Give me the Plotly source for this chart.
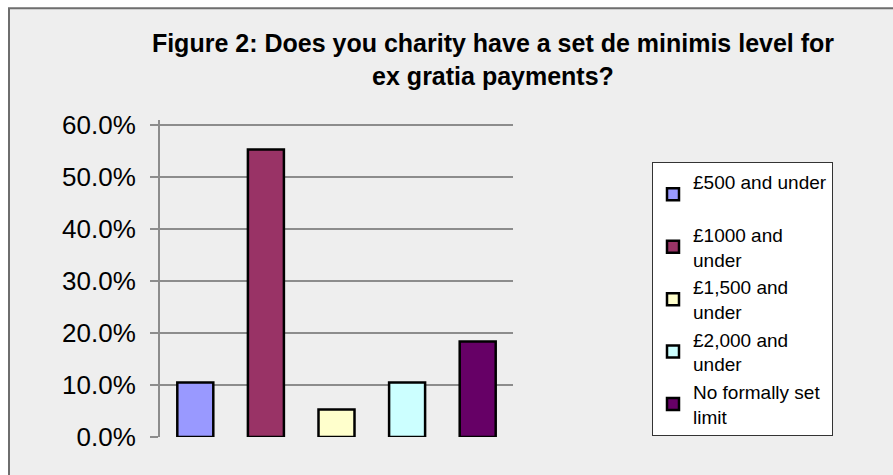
import plotly.graph_objects as go

# ---- data ----
categories = ["£500 and under", "£1000 and under", "£1,500 and under",
              "£2,000 and under", "No formally set limit"]
legend_labels = ["£500 and under<br>\u00a0", "£1000 and<br>under", "£1,500 and<br>under",
                 "£2,000 and<br>under", "No formally set<br>limit"]
values = [0.105, 0.553, 0.053, 0.105, 0.184]
colors = ["#9999FF", "#993366", "#FFFFCC", "#CCFFFF", "#660066"]
y_ticks = [0, 0.1, 0.2, 0.3, 0.4, 0.5, 0.6]
y_ticklabels = ["0.0%", "10.0%", "20.0%", "30.0%", "40.0%", "50.0%", "60.0%"]
title_text = "Figure 2: Does you charity have a set de minimis level for<br>ex gratia payments?"

FONT = "Liberation Sans, Arial, sans-serif"
Y_MAX = 0.61

fig = go.Figure()
for cat, lab, v, c in zip(categories, legend_labels, values, colors):
    fig.add_trace(go.Bar(
        x=[cat], y=[v], name=lab,
        marker=dict(color=c, line=dict(color="#000000", width=2.5)),
        hoverinfo="y",
    ))

W, H = 893, 475
# 0% at y=437 px, 60% at y=125 px
B = 38
ph = (437 - 125) * Y_MAX / 0.6
T = H - B - ph
L, R = 160, 380
pw = W - L - R

def px_x(p):
    return (p - L) / pw

def px_y(p):
    return (H - B - p) / ph

fig.update_layout(
    width=W, height=H,
    margin=dict(l=L, r=R, t=T, b=B, pad=0),
    paper_bgcolor="#FFFFFF",
    plot_bgcolor="rgba(0,0,0,0)",
    barmode="overlay",
    bargap=0.49,
    font=dict(family=FONT, color="#000000"),
    title=dict(
        text="<b>" + title_text.replace("<br>", "</b><br><b>") + "</b>",
        font=dict(family=FONT, size=25, color="#000000"),
        x=493 / W, xanchor="center",
        y=1 - 52 / H, yanchor="top",
        xref="container", yref="container",
    ),
    xaxis=dict(
        showticklabels=False, ticks="", showgrid=False, zeroline=False,
        showline=False, fixedrange=True,
    ),
    yaxis=dict(
        range=[0, Y_MAX],
        tickvals=y_ticks, ticktext=y_ticklabels,
        tickfont=dict(family=FONT, size=26, color="#000000"),
        ticks="outside", ticklen=8, tickcolor="#8C8C8C", tickwidth=2,
        showgrid=True, gridcolor="#8C8C8C", gridwidth=2,
        zeroline=False,
        showline=True, linecolor="#8C8C8C", linewidth=2,
        ticklabelstandoff=9,
        fixedrange=True,
    ),
    legend=dict(
        x=px_x(652), xanchor="left",
        y=px_y(162), yanchor="top",
        bgcolor="#FFFFFF", bordercolor="#333333", borderwidth=1,
        font=dict(family=FONT, size=19, color="#000000"),
        tracegroupgap=0,
        entrywidth=160, entrywidthmode="pixels",
    ),
    showlegend=True,
    shapes=[dict(
        type="rect", xref="paper", yref="paper", layer="below",
        x0=px_x(9), x1=px_x(W + 20), y0=px_y(H + 20), y1=px_y(8),
        fillcolor="#EEEEEE", line=dict(color="#6E6E6E", width=2),
    )],
)

fig.write_html("out.html", config={"displayModeBar": False},
               post_script="document.body.style.margin='0px';")
